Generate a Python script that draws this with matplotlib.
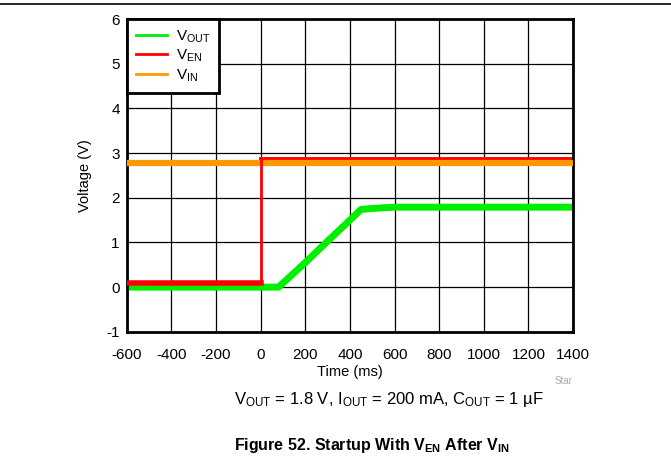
import matplotlib
matplotlib.use('Agg')
import matplotlib.pyplot as plt
from matplotlib.lines import Line2D

plt.rcParams['font.family'] = ['Liberation Sans', 'DejaVu Sans']
plt.rcParams['mathtext.fontset'] = 'custom'
plt.rcParams['mathtext.rm'] = 'Liberation Sans'
plt.rcParams['mathtext.bf'] = 'Liberation Sans:bold'
plt.rcParams['mathtext.it'] = 'Liberation Sans:italic'
plt.rcParams['axes.unicode_minus'] = False

# Traces read from the scope capture (time in ms, voltage in V)
vin_t = [-600, 1400]
vin_v = [2.78, 2.78]

ven_t = [-600, 0, 0, 1400]
ven_v = [0.1, 0.1, 2.86, 2.86]

vout_t = [-600, 80, 200, 300, 400, 450, 500, 600, 1400]
vout_v = [0.0, 0.0, 0.55, 1.03, 1.5, 1.74, 1.76, 1.79, 1.79]

fig = plt.figure(figsize=(6.71, 4.66), dpi=100)
ax = fig.add_axes([0.189, 0.288, 0.665, 0.671])

ax.plot(vin_t, vin_v, color='#ff9900', lw=4.5, zorder=3)
ax.plot(ven_t[:3], ven_v[:3], color='#ff0000', lw=2.0, zorder=4)
ax.plot(ven_t[:2], ven_v[:2], color='#ff0000', lw=4.0, zorder=4)
ax.plot(ven_t[2:], ven_v[2:], color='#ff0000', lw=3.5, zorder=2.5)
ax.plot(vout_t, vout_v, color='#00ee00', lw=5, zorder=2)

ax.set_xlim(-600, 1400)
ax.set_ylim(-1, 6)
ax.set_xticks(range(-600, 1401, 200))
ax.set_yticks(range(-1, 7))
ax.grid(True, color='black', lw=0.9)
ax.tick_params(axis='both', length=0, labelsize=11)
ax.tick_params(axis='x', pad=12)
ax.tick_params(axis='y', pad=5)
for s in ax.spines.values():
    s.set_linewidth(2)
ax.set_xlabel('Time (ms)', fontsize=10.5, labelpad=2)
ax.set_ylabel('Voltage (V)', fontsize=10.5, labelpad=10)

handles = [Line2D([], [], color='#00ee00', lw=2),
           Line2D([], [], color='#ff0000', lw=2),
           Line2D([], [], color='#ff9900', lw=2)]
labels = [r'V$_{\mathrm{OUT}}$', r'V$_{\mathrm{EN}}$', r'V$_{\mathrm{IN}}$']
leg = ax.legend(handles, labels, loc='upper left', fontsize=11,
                frameon=True, fancybox=False, borderaxespad=0,
                handlelength=2.0, labelspacing=0.2, borderpad=0.6,
                handletextpad=0.6)
leg.get_frame().set_edgecolor('black')
leg.get_frame().set_linewidth(2)
leg.get_frame().set_alpha(1)

fig.add_artist(Line2D([0, 1], [0.991, 0.991], color='black', lw=1.2))
fig.text(0.827, 0.182, 'Star', fontsize=7, color='#aaaaaa', ha='left', va='center')
fig.text(0.58, 0.142, r'V$_{\mathrm{OUT}}$ = 1.8 V, I$_{\mathrm{OUT}}$ = 200 mA, C$_{\mathrm{OUT}}$ = 1 µF',
         fontsize=12, ha='center', va='center')
fig.text(0.555, 0.043, r'Figure 52. Startup With V$_{\mathbf{EN}}$ After V$_{\mathbf{IN}}$',
         fontsize=11.5, fontweight='bold', ha='center', va='center')

fig.savefig('out.png', dpi=100)
